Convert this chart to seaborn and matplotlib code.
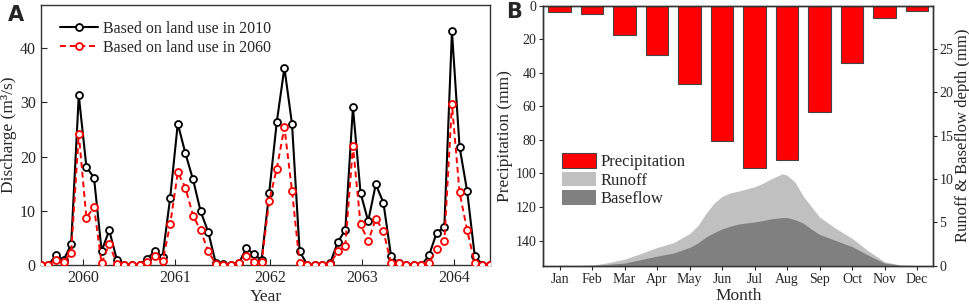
import numpy as np
import pandas as pd
import matplotlib
matplotlib.use('Agg')
import matplotlib.pyplot as plt
from matplotlib.patches import Patch
from matplotlib.lines import Line2D
import seaborn as sns

# --- du lieu panel A: luu luong thang 2060-2064 ---
years = ['2060', '2061', '2062', '2063', '2064']
q_2010 = [0.0, 0.0, 1.8, 0.9, 3.8, 31.3, 18.1, 16.1, 2.6, 6.4, 1.0, 0.1,
          0.0, 0.1, 1.2, 2.6, 1.5, 12.4, 26.1, 20.6, 15.8, 9.9, 6.1, 0.3,
          0.2, 0.1, 0.3, 3.1, 2.0, 0.9, 13.3, 26.4, 36.4, 26.0, 2.5, 0.1,
          0.0, 0.0, 0.3, 4.2, 6.5, 29.1, 13.3, 8.1, 14.9, 11.5, 1.7, 0.3,
          0.1, 0.0, 0.0, 1.8, 6.0, 7.0, 43.1, 21.8, 13.6, 1.6, 0.1, 0.0]
q_2060 = [0.0, 0.0, 1.0, 0.5, 2.3, 24.2, 8.7, 10.7, 0.3, 3.9, 0.2, 0.1,
          0.0, 0.1, 0.6, 1.7, 0.7, 7.5, 17.1, 14.3, 9.1, 6.4, 2.5, 0.2,
          0.1, 0.1, 0.4, 1.7, 0.6, 0.5, 11.8, 17.8, 25.4, 13.7, 0.3, 0.1,
          0.0, 0.0, 0.2, 2.5, 3.6, 22.0, 7.5, 4.4, 8.5, 6.3, 0.3, 0.4,
          0.1, 0.1, 0.1, 0.4, 3.0, 4.4, 29.7, 13.4, 6.4, 0.3, 0.1, 0.1]

# --- du lieu panel B: mua, dong chay, dong chay ngam ---
months = ['Jan', 'Feb', 'Mar', 'Apr', 'May', 'Jun', 'Jul', 'Aug', 'Sep', 'Oct', 'Nov', 'Dec']
precip = [3.6, 5.1, 17.5, 29.2, 46.9, 80.7, 96.6, 92.0, 63.2, 34.0, 7.3, 3.2]
# doc tren hinh theo tung doan nho (0 = Jan, 11 = Dec)
month_pos = [0, 0.5, 1, 1.5, 2, 2.5, 3, 3.5, 4, 4.25, 4.5, 4.75, 5, 5.25, 5.5, 6, 6.25, 6.5, 6.85, 7,
             7.25, 7.5, 7.75, 8, 8.5, 9, 9.5, 10, 10.5, 11]
runoff = [0.05, 0.03, 0.05, 0.35, 0.75, 1.4, 2.1, 2.65, 3.7, 4.6, 6.0, 7.2, 8.0, 8.4, 8.6, 9.1, 9.5, 10.0,
          10.6, 10.45, 9.6, 8.0, 6.8, 5.6, 4.3, 3.15, 1.7, 0.45, 0.08, 0.0]
baseflow = [0.03, 0.02, 0.05, 0.15, 0.3, 0.7, 1.1, 1.45, 2.1, 2.6, 3.3, 3.8, 4.25, 4.55, 4.8, 5.05, 5.2,
            5.4, 5.55, 5.55, 5.3, 4.9, 4.2, 3.6, 2.9, 2.2, 1.2, 0.3, 0.05, 0.0]

sns.set_style('ticks')
plt.rcParams['font.family'] = ['Liberation Serif', 'DejaVu Serif']
plt.rcParams['axes.linewidth'] = 1.0

fig = plt.figure(figsize=(9.69, 3.05), dpi=100)

# ================= PANEL A =================
ax_a = fig.add_axes([0.042, 0.131, 0.4637, 0.853])
df_a = pd.DataFrame({'idx': np.arange(len(q_2010)), 'q2010': q_2010, 'q2060': q_2060})
sns.lineplot(data=df_a, x='idx', y='q2010', ax=ax_a, color='black', linewidth=1.5,
             marker='o', markersize=5, markerfacecolor='white', markeredgecolor='black',
             markeredgewidth=1.3, zorder=3)
sns.lineplot(data=df_a, x='idx', y='q2060', ax=ax_a, color='red', linewidth=1.4,
             linestyle=(0, (3, 2)), marker='o', markersize=5, markerfacecolor='white',
             markeredgecolor='red', markeredgewidth=1.3, zorder=4)
ax_a.set_xlim(0, 59)
ax_a.set_ylim(0, 48)
ax_a.set_xticks([5.6, 17.7, 30.1, 42.2, 54.3])
ax_a.set_xticklabels(years)
ax_a.set_yticks([0, 10, 20, 30, 40])
ax_a.tick_params(direction='in', labelsize=11.5, length=4)
ax_a.set_xlabel('Year', fontsize=12.5, labelpad=2)
ax_a.set_ylabel('Discharge (m³/s)', fontsize=12.5, labelpad=2)
leg_a = [Line2D([0], [0], color='black', lw=1.5, marker='o', ms=5, mfc='white', mec='black', mew=1.3),
         Line2D([0], [0], color='red', lw=1.4, ls=(0, (3, 2)), marker='o', ms=5, mfc='white', mec='red', mew=1.3)]
ax_a.legend(leg_a, ['Based on land use in 2010', 'Based on land use in 2060'],
            loc='upper left', bbox_to_anchor=(0.01, 0.995), frameon=False, fontsize=11.5,
            handlelength=2.4, labelspacing=0.2, handletextpad=0.3)
for s in ax_a.spines.values():
    s.set_color('#333333')

# ================= PANEL B =================
ax_b = fig.add_axes([0.5607, 0.129, 0.4025, 0.852])
df_b = pd.DataFrame({'month': months, 'precip': precip})
sns.barplot(data=df_b, x='month', y='precip', ax=ax_b, color='red', saturation=1,
            width=0.7, edgecolor='#444444', linewidth=0.8)
ax_b.set_ylim(155, 0)
ax_b.set_xlim(-0.5, 11.5)
ax_b.set_yticks(np.arange(0, 141, 20))
ax_b.set_xlabel('Month', fontsize=12.5, labelpad=2)
ax_b.set_ylabel('Precipitation (mm)', fontsize=12.5, labelpad=2)
ax_b.tick_params(labelsize=10, length=3, pad=2)

ax_r = ax_b.twinx()
ax_r.fill_between(month_pos, 0, runoff, color='#c0c0c0', linewidth=0)
ax_r.fill_between(month_pos, 0, baseflow, color='#808080', linewidth=0)
ax_r.set_ylim(0, 30)
ax_r.set_yticks([0, 5, 10, 15, 20, 25])
ax_r.set_ylabel('Runoff & Baseflow depth (mm)', fontsize=12, labelpad=1)
ax_r.tick_params(labelsize=10, length=3, pad=1.5)
for s in list(ax_b.spines.values()) + list(ax_r.spines.values()):
    s.set_color('#333333')

leg_b = [Patch(facecolor='red', edgecolor='#444444', linewidth=0.8),
         Patch(facecolor='#c0c0c0', edgecolor='none'),
         Patch(facecolor='#808080', edgecolor='none')]
ax_r.legend(leg_b, ['Precipitation', 'Runoff', 'Baseflow'], loc='upper left',
            bbox_to_anchor=(0.01, 0.49), frameon=False, fontsize=12,
            handlelength=2.0, handleheight=0.95, labelspacing=0.1, handletextpad=0.3)

fig.text(0.008, 0.985, 'A', fontsize=15, fontweight='bold', family='DejaVu Sans', va='top')
fig.text(0.522, 0.995, 'B', fontsize=15, fontweight='bold', family='DejaVu Sans', va='top')

fig.savefig('out.png', dpi=100)
